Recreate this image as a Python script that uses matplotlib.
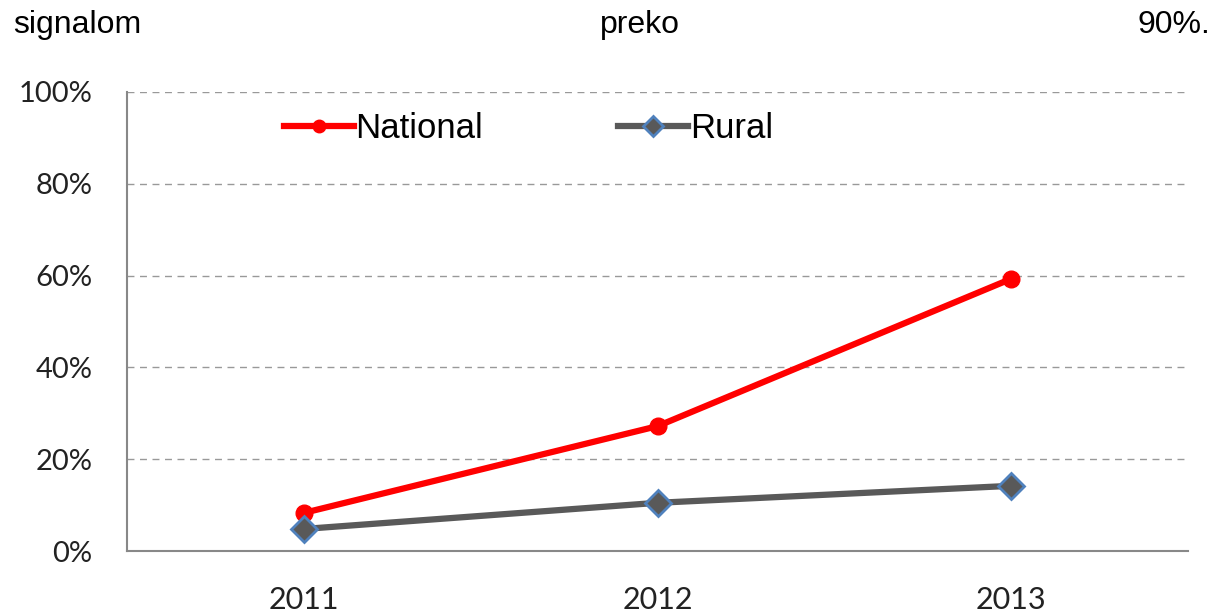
import matplotlib.pyplot as plt
from matplotlib.ticker import FuncFormatter

years = ["2011", "2012", "2013"]
national = [8.3, 27.2, 59.3]
rural = [4.8, 10.5, 14.2]
yticks = [0, 20, 40, 60, 80, 100]

fig = plt.figure(figsize=(12.2, 6.14), dpi=100)
ax = fig.add_axes([127/1220, 1-551/614, (1188-127)/1220, (551-92)/614])

x = range(len(years))
ax.plot(x, national, color="#ff0000", lw=4.5, marker="o", ms=12,
        markeredgecolor="#ff0000", label="National", zorder=3)
ax.plot(x, rural, color="#595959", lw=4.5, marker="D", ms=13,
        markerfacecolor="#595959", markeredgecolor="#4f81bd", mew=2,
        label="Rural", zorder=3)

ax.set_xlim(-0.5, 2.5)
ax.set_ylim(0, 100)
ax.set_xticks(list(x))
ax.set_xticklabels(years, fontsize=22, family="Lato", color="#222222")
ax.set_yticks(yticks)
ax.yaxis.set_major_formatter(FuncFormatter(lambda v, p: "%d%%" % v))
for lbl in ax.get_yticklabels():
    lbl.set_fontsize(21)
    lbl.set_family("Lato")
    lbl.set_color("#222222")
ax.tick_params(length=0)
ax.tick_params(axis="x", pad=25)
ax.tick_params(axis="y", pad=25)

ax.grid(axis="y", linestyle=(0, (5, 4)), color="#999999", lw=1)
for s in ["top", "right"]:
    ax.spines[s].set_visible(False)
for s in ["left", "bottom"]:
    ax.spines[s].set_color("#888888")
    ax.spines[s].set_linewidth(1.5)

leg = ax.legend(loc="center left", bbox_to_anchor=(0.135, 0.921), ncol=2,
                frameon=False, columnspacing=3.9, handlelength=2.0,
                handletextpad=0.05, markerscale=0.75, borderaxespad=0,
                prop={"family": "Liberation Sans", "size": 25})

fig.text(13/1220, 1-25/614, "signalom", fontsize=23, family="Liberation Sans", va="center", ha="left")
fig.text(640/1220, 1-25/614, "preko", fontsize=23, family="Liberation Sans", va="center", ha="center")
fig.text(1210/1220, 1-25/614, "90%.", fontsize=23, family="Liberation Sans", va="center", ha="right")

fig.savefig("out.png", dpi=100)
